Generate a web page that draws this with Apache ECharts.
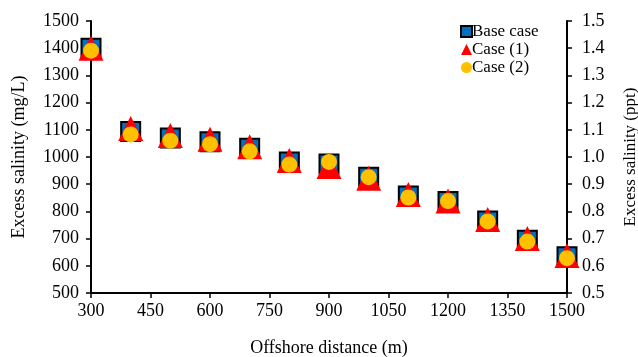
<!DOCTYPE html>
<html><head><meta charset="utf-8">
<script src="https://cdn.jsdelivr.net/npm/echarts@6/dist/echarts.min.js"></script>
<style>html,body{margin:0;padding:0;background:#fff}#c{width:638px;height:357px}</style>
</head><body><div id="c"></div>
<script>
var distances = [300,400,500,600,700,800,900,1000,1100,1200,1300,1400,1500];
var baseCase = [1400,1094,1070,1056,1032,982,974,926,857,836,765,694,633];
var case1 = [1400,1105,1079,1065,1038,987,965,922,862,838,770,700,638];
var case2 = [1391,1083,1060,1047,1021,972,982,926,851,838,763,689,628];
var seriesNames = ['Base case','Case (1)','Case (2)'];
var xTitle = 'Offshore distance (m)';
var yLeftTitle = 'Excess salinity (mg/L)';
var yRightTitle = 'Excess salinity (ppt)';

function pairs(arr){ return distances.map(function(d,i){ return [d, arr[i]]; }); }
var font = 'Liberation Serif';
var fs = 18;
var chart = echarts.init(document.getElementById('c'));
chart.setOption({
  animation:false,
  backgroundColor:'#fff',
  textStyle:{fontFamily:font,color:'#000'},
  grid:{left:91,right:71,top:21,bottom:64,containLabel:false,outerBoundsMode:'none'},
  legend:{
    orient:'vertical', left:455, top:18, itemWidth:11, itemHeight:11, itemGap:1,
    textStyle:{fontFamily:font,fontSize:17,color:'#000',padding:[0,0,0,-5]},
    data:[
      {name:seriesNames[0],icon:'rect',itemStyle:{color:'#0070C0',borderColor:'#000',borderWidth:2}},
      {name:seriesNames[1],icon:'triangle'},
      {name:seriesNames[2],icon:'circle'}
    ]
  },
  xAxis:{
    type:'value', min:300, max:1500, interval:150,
    name:xTitle, nameLocation:'middle', nameGap:46,
    nameTextStyle:{fontFamily:font,fontSize:fs,color:'#000'},
    axisLine:{show:true,lineStyle:{color:'#000',width:2}},
    axisTick:{show:true,length:5,lineStyle:{color:'#000',width:1.5}},
    axisLabel:{fontFamily:font,fontSize:fs,color:'#000',margin:9,formatter:function(v){return String(v);}},
    splitLine:{show:false}
  },
  yAxis:[{
    type:'value', min:500, max:1500, interval:100, position:'left',
    name:yLeftTitle, nameLocation:'middle', nameGap:63, nameRotate:90,
    nameTextStyle:{fontFamily:font,fontSize:fs,color:'#000'},
    axisLine:{show:true,lineStyle:{color:'#000',width:2}},
    axisTick:{show:true,length:5,lineStyle:{color:'#000',width:1.5}},
    axisLabel:{fontFamily:font,fontSize:fs,color:'#000',margin:12,formatter:function(v){return String(v);}},
    splitLine:{show:false}
  },{
    type:'value', min:0.5, max:1.5, interval:0.1, position:'right',
    name:yRightTitle, nameLocation:'middle', nameGap:55, nameRotate:90,
    nameTextStyle:{fontFamily:font,fontSize:17,color:'#000'},
    axisLine:{show:true,lineStyle:{color:'#000',width:2}},
    axisTick:{show:true,length:5,lineStyle:{color:'#000',width:1.5}},
    axisLabel:{fontFamily:font,fontSize:fs,color:'#000',margin:15,formatter:function(v){return v.toFixed(1);}},
    splitLine:{show:false}
  }],
  series:[
    {name:seriesNames[0],type:'scatter',data:pairs(baseCase),symbol:'rect',symbolSize:19,
     itemStyle:{color:'#0070C0',borderColor:'#000',borderWidth:2,opacity:1},z:2},
    {name:seriesNames[1],type:'scatter',data:pairs(case1),symbol:'triangle',symbolSize:[25,25],
     itemStyle:{color:'#FF0000',opacity:1},z:3},
    {name:seriesNames[2],type:'scatter',data:pairs(case2),symbol:'circle',symbolSize:16,
     itemStyle:{color:'#FFC000',opacity:1},z:4}
  ]
});
</script></body></html>
